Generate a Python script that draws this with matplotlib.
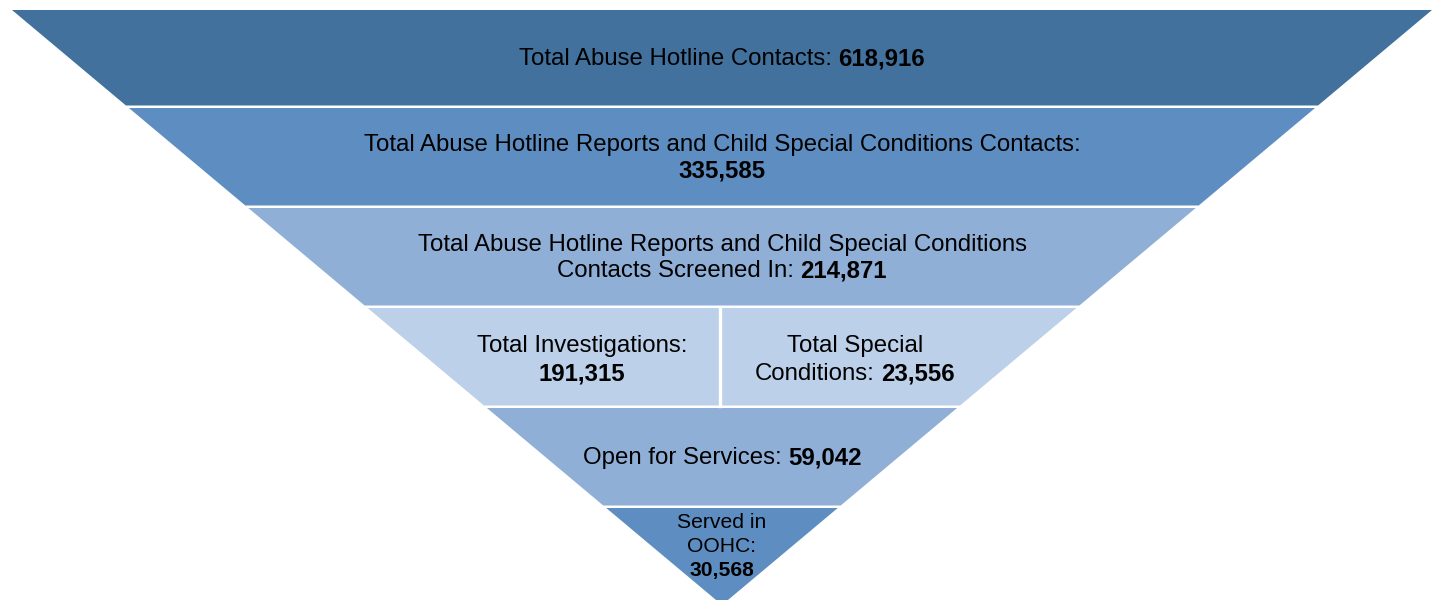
import matplotlib
matplotlib.use('Agg')
from matplotlib import pyplot as plt
from matplotlib.patches import Polygon

plt.rcParams['font.family'] = ['Liberation Sans', 'DejaVu Sans']

# band contents: each text line is a list of (text, bold) parts
band_colors = ['#41719c', '#5e8ec1', '#8fafd7', '#bcd0e9', '#8fafd7', '#5e8ec1']
band_lines = [
    [[('Total Abuse Hotline Contacts:', False), ('618,916', True)]],
    [[('Total Abuse Hotline Reports and Child Special Conditions Contacts:', False)],
     [('335,585', True)]],
    [[('Total Abuse Hotline Reports and Child Special Conditions', False)],
     [('Contacts Screened In:', False), ('214,871', True)]],
    None,
    [[('Open for Services:', False), ('59,042', True)]],
    [[('Served in', False)], [('OOHC:', False)], [('30,568', True)]],
]
split_left = [[('Total Investigations:', False)], [('191,315', True)]]
split_right = [[('Total Special', False)], [('Conditions:', False), ('23,556', True)]]

W, H = 1440, 600
cx, top, apex = 722, 10, 605
half_top = 710
band_h, gap = 100, 3
font_size = 17.3

fig = plt.figure(figsize=(14.4, 6), dpi=100)
ax = fig.add_axes([0, 0, 1, 1])
ax.set_xlim(0, W)
ax.set_ylim(H, 0)
ax.axis('off')
renderer = fig.canvas.get_renderer()


def half_width(y):
    return half_top * (apex - y) / (apex - top)


def text_width(s, bold, size):
    t = ax.text(0, 0, s, fontsize=size, fontweight='bold' if bold else 'normal')
    w = t.get_window_extent(renderer).width
    t.remove()
    return w


def draw_line(x, y, parts, size):
    space = 0.27 * size * 100 / 72
    widths = [text_width(s, b, size) for s, b in parts]
    total = sum(widths) + space * (len(parts) - 1)
    xx = x - total / 2
    for (s, b), w in zip(parts, widths):
        ax.text(xx, y, s, fontsize=size, fontweight='bold' if b else 'normal',
                ha='left', va='center_baseline', color='black')
        xx += w + space


def draw_block(x, yc, lines, size, spacing):
    n = len(lines)
    for i, parts in enumerate(lines):
        draw_line(x, yc + (i - (n - 1) / 2) * spacing, parts, size)


for i, color in enumerate(band_colors):
    y0 = top if i == 0 else 8 + i * band_h
    y1 = min(8 + (i + 1) * band_h - gap + 0.5, H)
    pts = [(cx - half_width(y0), y0), (cx + half_width(y0), y0),
           (cx + half_width(y1), y1), (cx - half_width(y1), y1)]
    ax.add_patch(Polygon(pts, closed=True, facecolor=color, edgecolor='none'))
    yc = (y0 + y1) / 2 - 1
    if band_lines[i] is not None:
        if i == 5:
            draw_block(cx, 544.5, band_lines[i], 15.2, 24)
        else:
            draw_block(cx, yc, band_lines[i], font_size, 25.5)
    else:
        ax.plot([719.5, 719.5], [y0, y1], color='white', lw=2.4)
        draw_block(582, yc + 2, split_left, font_size, 28)
        draw_block(855, yc + 2, split_right, font_size, 28)

fig.savefig('out.png', dpi=100)
